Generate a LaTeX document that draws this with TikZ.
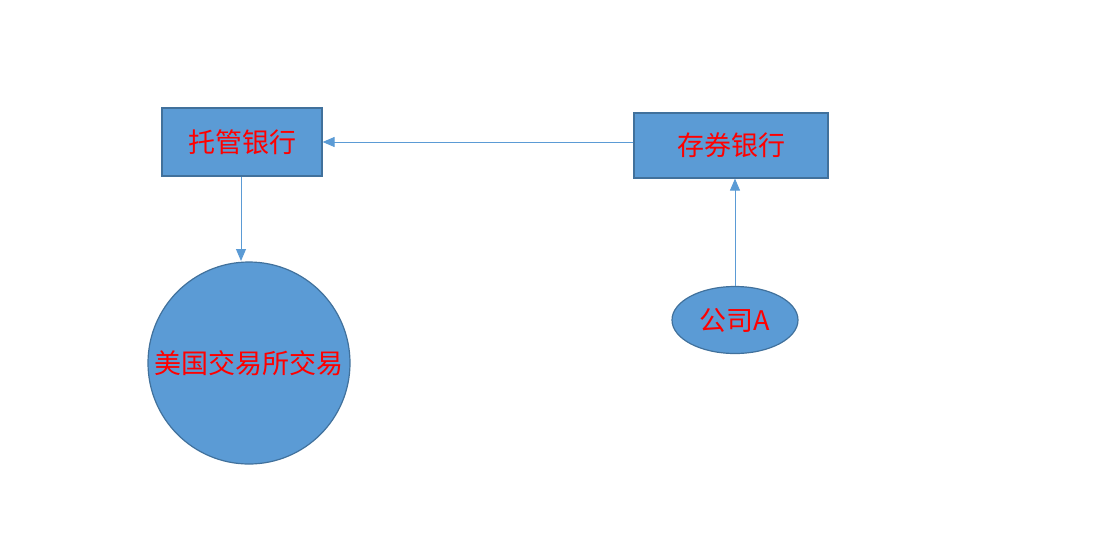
\documentclass[tikz,border=0pt]{standalone}
\usepackage{fontspec}
\newfontfamily\cjk{Noto Sans CJK SC}
\usetikzlibrary{shapes.geometric,arrows.meta}
\definecolor{fillb}{HTML}{5B9BD5}
\definecolor{edgeb}{HTML}{41719C}
\definecolor{arrb}{HTML}{5B9BD5}
\begin{document}
\begin{tikzpicture}[x=1pt,y=-1pt,
  shp/.style={draw=edgeb,line width=1.2pt,fill=fillb,text=red,font=\cjk\fontsize{27}{30}\selectfont,inner sep=0pt},
  box/.style={shp,rectangle,minimum width=160pt,minimum height=68pt},
  arr/.style={draw=arrb,line width=1pt,-{Triangle[length=12pt,width=10pt]}}]
\useasboundingbox (0,0) rectangle (1108,558);
\node[box] (tg) at (242,142) {托管银行};
\node[box,minimum width=194pt,minimum height=65pt] (cq) at (731,145.5) {存券银行};
\node[shp,circle,minimum size=202pt] (us) at (249,363) {美国交易所交易};
\node[shp,ellipse,minimum width=126pt,minimum height=67pt] (gs) at (735,320) {公司A};
\coordinate (ustop) at (241,261);
\draw[arr] (cq.west |- tg.east) -- (tg.east);
\draw[arr] (tg.south -| ustop) -- (ustop);
\draw[arr] (gs.north) -- (gs.north |- cq.south);
\end{tikzpicture}
\end{document}
